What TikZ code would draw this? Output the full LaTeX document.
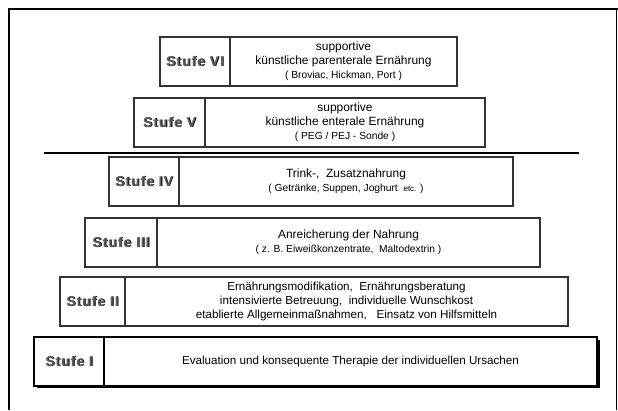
\documentclass[tikz,border=0pt]{standalone}
\usepackage{fontspec}
\setmainfont{Liberation Sans}
\newcommand{\smtxt}{\fontsize{10.3}{14}\selectfont}
\newcommand{\tinytxt}{\fontsize{8}{14}\selectfont}
\newcommand{\stufelab}[1]{\makebox[0pt][l]{\hspace{0.9bp}\raisebox{-0.9bp}{\color{black}Stufe #1}}{\color{black!62}Stufe #1}}
\tikzset{
  box/.style={draw=black!80, line width=1.1bp, anchor=north west, minimum height=49bp, inner sep=0pt, outer sep=0pt},
  lab/.style={box, font=\fontsize{14}{16}\selectfont\bfseries\addfontfeature{LetterSpace=7}},
  cont/.style={box, align=center, font=\fontsize{12}{14}\selectfont},
  frame/.style={black, line width=2.2bp},
}
\begin{document}
\begin{tikzpicture}[x=1bp,y=-1bp]
\useasboundingbox (0,0) rectangle (618,410);
% outer frame
\coordinate (fbl) at (9,410);
\coordinate (ftl) at (9,9);
\coordinate (ftr) at (616.5,9);
\coordinate (fbr) at (616.5,410);
\draw[frame] (fbl) -- (ftl) -- ([xshift=1bp]ftr);
\draw[black, line width=1bp] (ftr) -- (fbr);
% separator line
\coordinate (s1) at (44,153);
\coordinate (s2) at (579,153);
\draw[black, line width=2bp] (s1) -- (s2);
% Stufe VI
\node[lab, minimum width=70bp] (l6) at (160,37) {\stufelab{VI}};
\node[cont, minimum width=227bp] (c6) at (l6.north east) {supportive\\künstliche parenterale Ernährung\\{\smtxt ( Broviac, Hickman, Port )}};
% Stufe V
\node[lab, minimum width=71bp] (l5) at (134,98) {\stufelab{V}};
\node[cont, minimum width=280bp] (c5) at (l5.north east) {supportive\\künstliche enterale Ernährung\\{\smtxt ( PEG / PEJ - Sonde )}};
% Stufe IV
\node[lab, minimum width=70bp] (l4) at (109,157) {\stufelab{IV}};
\node[cont, minimum width=334bp] (c4) at (l4.north east) {Trink-,\ \ Zusatznahrung\\{\smtxt ( Getränke, Suppen, Joghurt\ \ {\tinytxt etc.} )}};
% Stufe III
\node[lab, minimum width=72bp] (l3) at (85,218) {\stufelab{III}};
\node[cont, minimum width=383bp] (c3) at (l3.north east) {Anreicherung der Nahrung\\{\smtxt ( z. B. Eiweißkonzentrate,\ \ Maltodextrin )}};
% Stufe II
\node[lab, minimum width=65bp] (l2) at (60,277) {\stufelab{II}};
\node[cont, minimum width=443bp, font=\fontsize{11.7}{14}\selectfont] (c2) at (l2.north east) {Ernährungsmodifikation,\ \ Ernährungsberatung\\intensivierte Betreuung,\ \ individuelle Wunschkost\\etablierte Allgemeinmaßnahmen,\ \ \ Einsatz von Hilfsmitteln};
% Stufe I
\coordinate (sh1) at (36.5,339.5);
\coordinate (sh2) at (599.5,387.5);
\fill[black] (sh1) rectangle (sh2);
\node[lab, minimum width=70bp, fill=white, draw=black] (l1) at (34,337) {\stufelab{I}};
\node[cont, minimum width=493bp, fill=white, draw=black, font=\fontsize{11.7}{14}\selectfont] (c1) at (l1.north east) {Evaluation und konsequente Therapie der individuellen Ursachen};
\end{tikzpicture}
\end{document}
